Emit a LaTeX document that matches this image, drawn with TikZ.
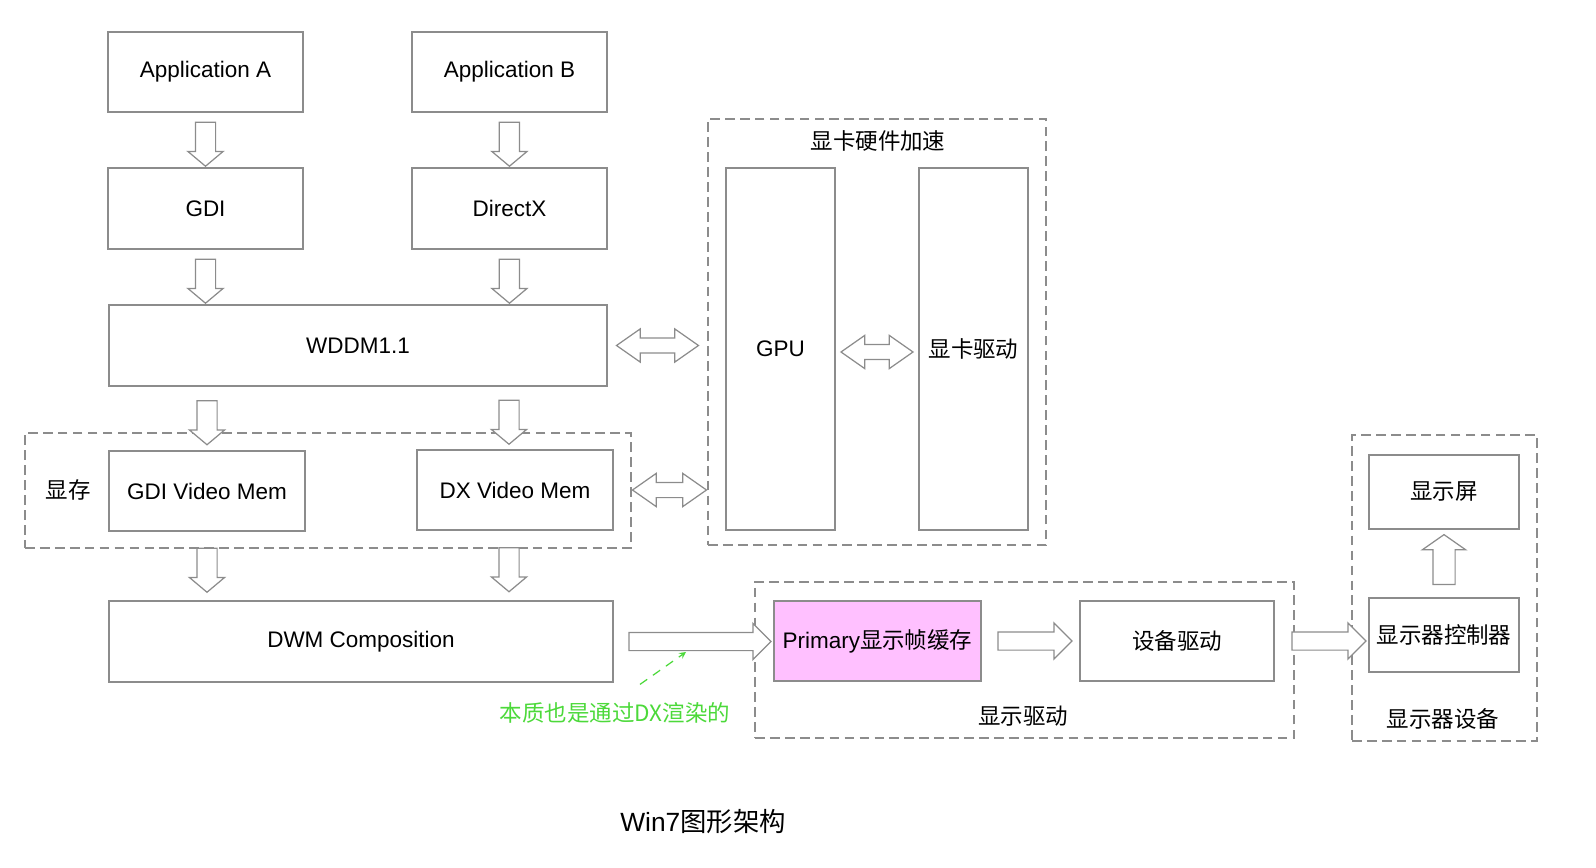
\documentclass[tikz,border=0pt]{standalone}
\usepackage{fontspec}
\setmainfont{Liberation Sans}
\newfontfamily\cjk{Noto Sans CJK SC}
\usetikzlibrary{shapes.arrows, arrows, calc}
\definecolor{linegray}{HTML}{8C8C8C}
\definecolor{bufpink}{HTML}{FFC0FF}
\definecolor{notegreen}{HTML}{4CD93A}
\tikzstyle{stylebox} = [rectangle, draw=linegray, line width=0.7pt, text centered, inner sep=0pt, font=\fontsize{12.8}{15}\selectfont]
\tikzstyle{stylegroup} = [rectangle, draw=linegray, line width=0.7pt, dash pattern=on 5.5pt off 3pt, inner sep=0pt]
\tikzstyle{stylelabel} = [font=\fontsize{12.8}{15}\selectfont\cjk]
\tikzstyle{styledown} = [single arrow, draw=linegray, line width=0.7pt, fill=white, inner sep=0.19cm, single arrow head extend=0.15cm, single arrow tip angle=100, minimum height=0.88cm, shape border rotate=270]
\tikzstyle{styleright} = [single arrow, draw=linegray, line width=0.7pt, fill=white, inner sep=0.17cm, single arrow head extend=0.18cm, minimum height=1.48cm]
\tikzstyle{styleboth} = [double arrow, draw=linegray, line width=0.7pt, fill=white, inner sep=0.14cm, double arrow head extend=0.18cm, double arrow tip angle=70]

\begin{document}
\begin{tikzpicture}[x=0.02cm, y=0.02cm]

% groups
\node (vmgroup) [stylegroup, minimum width=12.12cm, minimum height=2.3cm] at (328,-490.5) {};
\node (hwgroup) [stylegroup, minimum width=6.76cm, minimum height=8.52cm] at (877,-332) {};
\node (drvgroup) [stylegroup, minimum width=10.78cm, minimum height=3.12cm] at (1024.5,-660) {};
\node (devgroup) [stylegroup, minimum width=3.7cm, minimum height=6.12cm] at (1444.5,-588) {};

% left column
\node (appa) [stylebox, minimum width=3.9cm, minimum height=1.6cm] at (205.5,-72) {Application A};
\node (appb) [stylebox, minimum width=3.9cm, minimum height=1.6cm, right of=appa, node distance=6.08cm] {Application B};
\node (gdi) [stylebox, minimum width=3.9cm, minimum height=1.62cm, below of=appa, node distance=2.73cm] {GDI};
\node (dx) [stylebox, minimum width=3.9cm, minimum height=1.62cm, right of=gdi, node distance=6.08cm] {DirectX};
\node (wddm) [stylebox, minimum width=9.96cm, minimum height=1.62cm] at (358,-345.5) {WDDM1.1};
\node (gdivm) [stylebox, minimum width=3.92cm, minimum height=1.6cm] at (207,-491) {GDI Video Mem};
\node (dxvm) [stylebox, minimum width=3.92cm, minimum height=1.6cm] at (515,-490) {DX Video Mem};
\node (vmlabel) [stylelabel] at (68,-490) {显存};
\node (dwm) [stylebox, minimum width=10.08cm, minimum height=1.62cm] at (361,-641.5) {DWM Composition};

% graphics card
\node (hwlabel) [stylelabel] at (878,-141) {显卡硬件加速};
\node (gpu) [stylebox, minimum width=2.18cm, minimum height=7.24cm] at (780.5,-349) {GPU};
\node (gpudrv) [stylebox, minimum width=2.18cm, minimum height=7.24cm, font=\fontsize{12.8}{15}\selectfont\cjk] at (973.5,-349) {显卡驱动};

% display driver
\node (primary) [stylebox, fill=bufpink, minimum width=4.14cm, minimum height=1.6cm] at (877.5,-641) {Primary{\cjk 显示帧缓存}};
\node (devdrv) [stylebox, minimum width=3.88cm, minimum height=1.6cm, font=\fontsize{12.8}{15}\selectfont\cjk] at (1177,-641) {设备驱动};
\node (drvlabel) [stylelabel] at (1023,-716) {显示驱动};

% display device
\node (screen) [stylebox, minimum width=3cm, minimum height=1.48cm, font=\fontsize{12.8}{15}\selectfont\cjk] at (1444,-492) {显示屏};
\node (ctrl) [stylebox, minimum width=3cm, minimum height=1.48cm, font=\fontsize{12.8}{15}\selectfont\cjk] at (1444,-635) {显示器控制器};
\node (devlabel) [stylelabel] at (1443,-719) {显示器设备};

% block arrows
\node (d1) [styledown] at ($(appa.south)!0.5!(gdi.north)$) {};
\node (d2) [styledown] at ($(appb.south)!0.5!(dx.north)$) {};
\node (d3) [styledown] at ($(gdi.south)!0.5!(gdi.south |- wddm.north)$) {};
\node (d4) [styledown] at ($(dx.south)!0.5!(dx.south |- wddm.north)$) {};
\node (d5) [styledown] at ($(gdivm.north |- wddm.south)!0.5!(gdivm.north)$) {};
\node (d6) [styledown] at ($(dxvm.north |- wddm.south)!0.5!(dxvm.north) + (-6,0)$) {};
\node (d7) [styledown] at ($(gdivm.south)!0.5!(gdivm.south |- dwm.north)$) {};
\node (d8) [styledown] at ($(dxvm.south)!0.5!(dxvm.south |- dwm.north) + (-6,0)$) {};
\node (b1) [styleboth, minimum height=1.64cm] at ($(wddm.east)!0.5!(hwgroup.west |- wddm.east)$) {};
\node (b2) [styleboth, minimum height=1.48cm] at ($(vmgroup.east |- dxvm.east)!0.5!(hwgroup.west |- dxvm.east)$) {};
\node (b3) [styleboth, minimum height=1.44cm] at ($(gpu.east)!0.5!(gpudrv.west) + (0,-3)$) {};
\node (r1) [styleright, minimum height=2.84cm] at ($(dwm.east)!0.5!(primary.west |- dwm.east) + (2,0)$) {};
\node (r2) [styleright] at ($(primary.east)!0.5!(devdrv.west)$) {};
\node (r3) [styleright] at ($(devdrv.east)!0.5!(ctrl.west |- devdrv.east) + (3,0)$) {};
\node (u1) [single arrow, draw=linegray, line width=0.7pt, fill=white, inner sep=0.21cm, single arrow head extend=0.21cm, single arrow tip angle=110, minimum height=1cm, shape border rotate=90] at ($(ctrl.north)!0.5!(screen.south)$) {};

% note
\node (note) [font=\fontsize{12.8}{15}\selectfont\cjk, text=notegreen] at (615,-713) {本质也是通过DX渲染的};
\coordinate (dwmtip) at (686,-652);
\draw [notegreen, line width=0.7pt, dash pattern=on 5pt off 4pt, -stealth] (note.north) ++(25,12) -- (dwmtip);

\node (title) [font=\fontsize{15}{18}\selectfont] at (703,-822) {Win7{\cjk 图形架构}};

\pgfresetboundingbox
\useasboundingbox (0,0) rectangle (1596,-868);
\end{tikzpicture}
\end{document}
